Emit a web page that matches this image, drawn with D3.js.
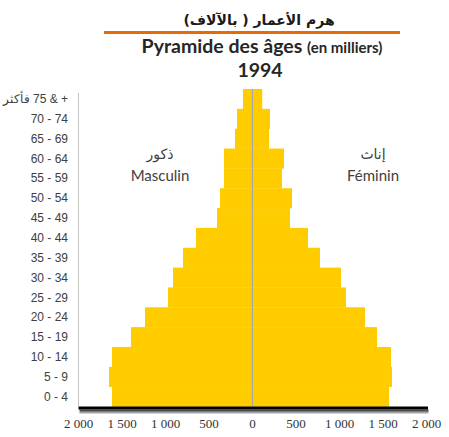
<!DOCTYPE html>
<html>
<head>
<meta charset="utf-8">
<script src="https://cdn.jsdelivr.net/npm/d3@7"></script>
<style>
  body { margin: 0; background: #fff; }
  svg { display: block; }
</style>
</head>
<body>
<svg></svg>
<script>
var ageGroups = ["75 & +", "70 - 74", "65 - 69", "60 - 64", "55 - 59", "50 - 54", "45 - 49", "40 - 44",
                 "35 - 39", "30 - 34", "25 - 29", "20 - 24", "15 - 19", "10 - 14", "5 - 9", "0 - 4"];
var male   = [110, 178, 201, 328, 328, 374, 408, 649, 799, 914, 971, 1236, 1397, 1615, 1649, 1615];
var female = [112, 201, 190, 362, 339, 454, 431, 638, 776, 1017, 1075, 1293, 1431, 1592, 1603, 1569];
var xTicks = [-2000, -1500, -1000, -500, 0, 500, 1000, 1500, 2000];

var W = 449, H = 437;
var plot = {left: 78.5, right: 426.5, top: 89, bottom: 406.5};

var svg = d3.select("svg")
    .attr("width", W)
    .attr("height", H);

var x = d3.scaleLinear()
    .domain([-2000, 2000])
    .range([plot.left, plot.right]);

var y = d3.scaleBand()
    .domain(ageGroups)
    .range([plot.top, plot.bottom])
    .padding(0);

var data = ageGroups.map(function(g, i) {
    return { group: g, m: male[i], f: female[i] };
});

// titles
svg.append("text")
    .attr("x", 259).attr("y", 25)
    .attr("text-anchor", "middle")
    .attr("direction", "rtl")
    .style("font-family", "DejaVu Sans, sans-serif")
    .style("font-weight", "bold")
    .style("font-size", "14px")
    .attr("fill", "#1a1a1a")
    .text("هرم الأعمار ( بالآلاف)");

svg.append("line")
    .attr("x1", 104).attr("x2", 400)
    .attr("y1", 32.5).attr("y2", 32.5)
    .attr("stroke", "#e36c09")
    .attr("stroke-width", 3);

var t = svg.append("text")
    .attr("x", 262).attr("y", 53)
    .attr("text-anchor", "middle")
    .style("font-family", "Lato, sans-serif")
    .style("font-weight", "bold")
    .attr("fill", "#262626");
t.append("tspan").style("font-size", "19.5px").text("Pyramide des âges ");
t.append("tspan").style("font-size", "15px").text("(en milliers)");

svg.append("text")
    .attr("x", 260).attr("y", 77)
    .attr("text-anchor", "middle")
    .style("font-family", "Lato, sans-serif")
    .style("font-weight", "bold")
    .style("font-size", "19.5px")
    .attr("fill", "#262626")
    .text("1994");

// bars
svg.append("g").selectAll("rect")
    .data(data)
    .enter()
    .append("rect")
        .attr("x", function(d) { return x(-d.m); })
        .attr("y", function(d) { return y(d.group); })
        .attr("width", function(d) { return x(0) - x(-d.m); })
        .attr("height", y.bandwidth() + 0.3)
        .attr("fill", "#ffcc00");

svg.append("g").selectAll("rect")
    .data(data)
    .enter()
    .append("rect")
        .attr("x", x(0))
        .attr("y", function(d) { return y(d.group); })
        .attr("width", function(d) { return x(d.f) - x(0); })
        .attr("height", y.bandwidth() + 0.3)
        .attr("fill", "#ffcc00");

// center line
svg.append("line")
    .attr("x1", x(0)).attr("x2", x(0))
    .attr("y1", plot.top).attr("y2", plot.bottom)
    .attr("stroke", "#a6a6a6")
    .attr("stroke-width", 1);

// left axis line
svg.append("line")
    .attr("x1", plot.left).attr("x2", plot.left)
    .attr("y1", plot.top + 4).attr("y2", plot.bottom)
    .attr("stroke", "#c4c4c4")
    .attr("stroke-width", 1);

// bottom axis with shadow
var grad = svg.append("defs").append("linearGradient")
    .attr("id", "shade")
    .attr("x1", 0).attr("y1", 0).attr("x2", 0).attr("y2", 1);
grad.append("stop").attr("offset", "0%").attr("stop-color", "#222");
grad.append("stop").attr("offset", "100%").attr("stop-color", "#fff");

svg.append("rect")
    .attr("x", plot.left).attr("y", plot.bottom)
    .attr("width", plot.right - plot.left + 1.5).attr("height", 3)
    .attr("fill", "#000");
svg.append("rect")
    .attr("x", plot.left + 1).attr("y", plot.bottom + 3)
    .attr("width", plot.right - plot.left + 1).attr("height", 5)
    .attr("fill", "url(#shade)");

// y labels
svg.append("g").selectAll("text")
    .data(ageGroups)
    .enter()
    .append("text")
        .attr("x", 68)
        .attr("y", function(d) { return y(d) + y.bandwidth() / 2; })
        .attr("dy", "0.35em")
        .attr("text-anchor", "end")
        .style("font-family", "Liberation Sans, Arial, sans-serif")
        .style("font-size", "12px")
        .attr("fill", "#404040")
        .text(function(d) { return d == "75 & +" ? "فأكثر\u200E 75 & +" : d; });

// x labels
svg.append("g").selectAll("text")
    .data(xTicks)
    .enter()
    .append("text")
        .attr("x", function(d) { return x(d); })
        .attr("y", 428)
        .attr("text-anchor", "middle")
        .style("font-family", "Liberation Serif, serif")
        .style("font-size", "13px")
        .attr("fill", "#333")
        .text(function(d) { return d3.format(",")(Math.abs(d)).replace(",", " "); });

// side labels
var sides = [
    { ar: "ذكور", fr: "Masculin", cx: 160 },
    { ar: "إناث", fr: "Féminin", cx: 373 }
];
sides.forEach(function(s) {
    svg.append("text")
        .attr("x", s.cx).attr("y", 159)
        .attr("text-anchor", "middle")
        .style("font-family", "DejaVu Sans, sans-serif")
        .style("font-size", "14px")
        .attr("fill", "#404040")
        .text(s.ar);
    svg.append("text")
        .attr("x", s.cx).attr("y", 181)
        .attr("text-anchor", "middle")
        .style("font-family", "Lato, sans-serif")
        .style("font-size", "15px")
        .attr("fill", "#404040")
        .text(s.fr);
});
</script>
</body>
</html>
